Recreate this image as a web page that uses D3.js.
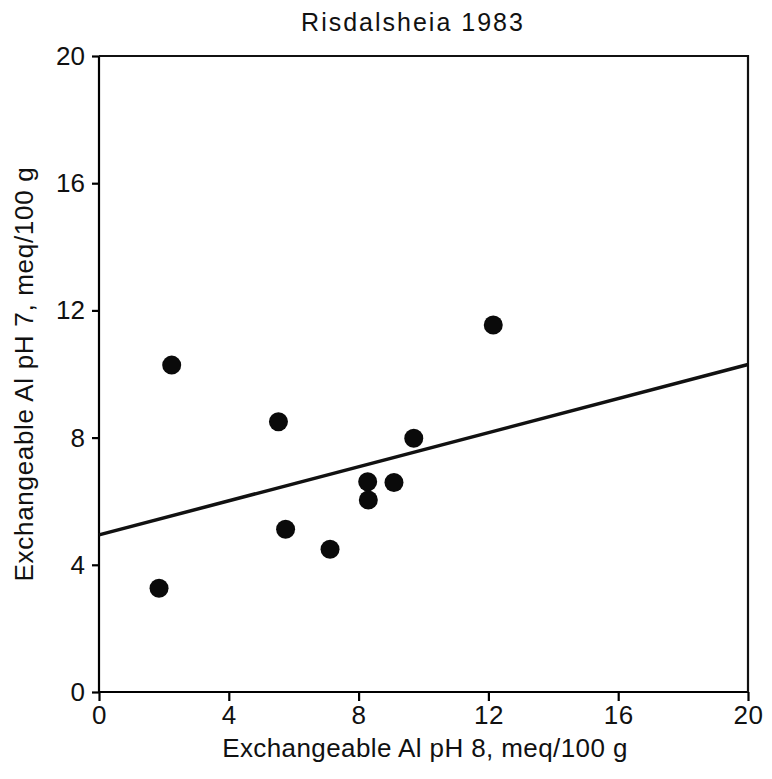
<!DOCTYPE html>
<html><head><meta charset="utf-8">
<script src="https://cdn.jsdelivr.net/npm/d3@7"></script>
<style>body{margin:0;background:#fff}svg{display:block}text{font-family:"Liberation Sans",Arial,sans-serif;fill:#111}</style>
</head><body>
<svg id="c" width="772" height="779"></svg>
<script>
const xVals = [2.24, 5.53, 5.75, 7.12, 1.85, 12.15, 9.70, 8.28, 8.30, 9.09];
const yVals = [10.28, 8.50, 5.12, 4.49, 3.26, 11.54, 7.98, 6.61, 6.04, 6.59];
const lineX = [0, 20];
const lineY = [4.94, 10.30];
const xTicks = [0, 4, 8, 12, 16, 20];
const yTicks = [0, 4, 8, 12, 16, 20];
const title = "Risdalsheia 1983";
const xLabel = "Exchangeable Al pH 8, meq/100 g";
const yLabel = "Exchangeable Al pH 7, meq/100 g";

const svg = d3.select("#c");
const L = 99, R = 748, T = 56, B = 692;
const x = d3.scaleLinear().domain([0, 20]).range([L, R]);
const y = d3.scaleLinear().domain([0, 20]).range([B, T]);

const sw = 2.2;
svg.append("g").attr("transform", `translate(0,${B})`)
  .call(d3.axisBottom(x).tickValues(xTicks).tickSize(9).tickPadding(5).tickFormat(d3.format("d")))
  .call(g => { g.select(".domain").attr("stroke-width", sw).attr("d", `M${L},0H${R}`); g.selectAll(".tick line").attr("stroke-width", sw); g.selectAll("text").attr("font-size", 26).attr("letter-spacing", 0.5); });
svg.append("g").attr("transform", `translate(${L},0)`)
  .call(d3.axisLeft(y).tickValues(yTicks).tickSize(7).tickPadding(7).tickFormat(d3.format("d")))
  .call(g => { g.select(".domain").attr("stroke-width", sw).attr("d", `M0,${T}V${B}`); g.selectAll(".tick line").attr("stroke-width", sw); g.selectAll("text").attr("font-size", 26).attr("dy", "0.33em"); });
// frame
svg.append("path").attr("d", `M${L},${T}H${R}V${B}`).attr("fill", "none").attr("stroke", "#111").attr("stroke-width", sw);

// regression line
svg.append("line").attr("x1", x(lineX[0])).attr("y1", y(lineY[0])).attr("x2", x(lineX[1])).attr("y2", y(lineY[1]))
  .attr("stroke", "#111").attr("stroke-width", 3.5);

svg.append("g").selectAll("circle").data(xVals.map((v, i) => [v, yVals[i]])).join("circle")
  .attr("cx", d => x(d[0])).attr("cy", d => y(d[1])).attr("r", 9.5).attr("fill", "#0a0a0a");

svg.append("text").attr("x", 413).attr("y", 31).attr("text-anchor", "middle").attr("font-size", 25).attr("letter-spacing", 2).text(title);
svg.append("text").attr("x", 425).attr("y", 757).attr("text-anchor", "middle").attr("font-size", 26).attr("letter-spacing", 0.4).text(xLabel);
svg.append("text").attr("transform", `translate(33,374) rotate(-90)`).attr("text-anchor", "middle").attr("font-size", 26).attr("letter-spacing", 0.7).text(yLabel);
</script>
</body></html>
